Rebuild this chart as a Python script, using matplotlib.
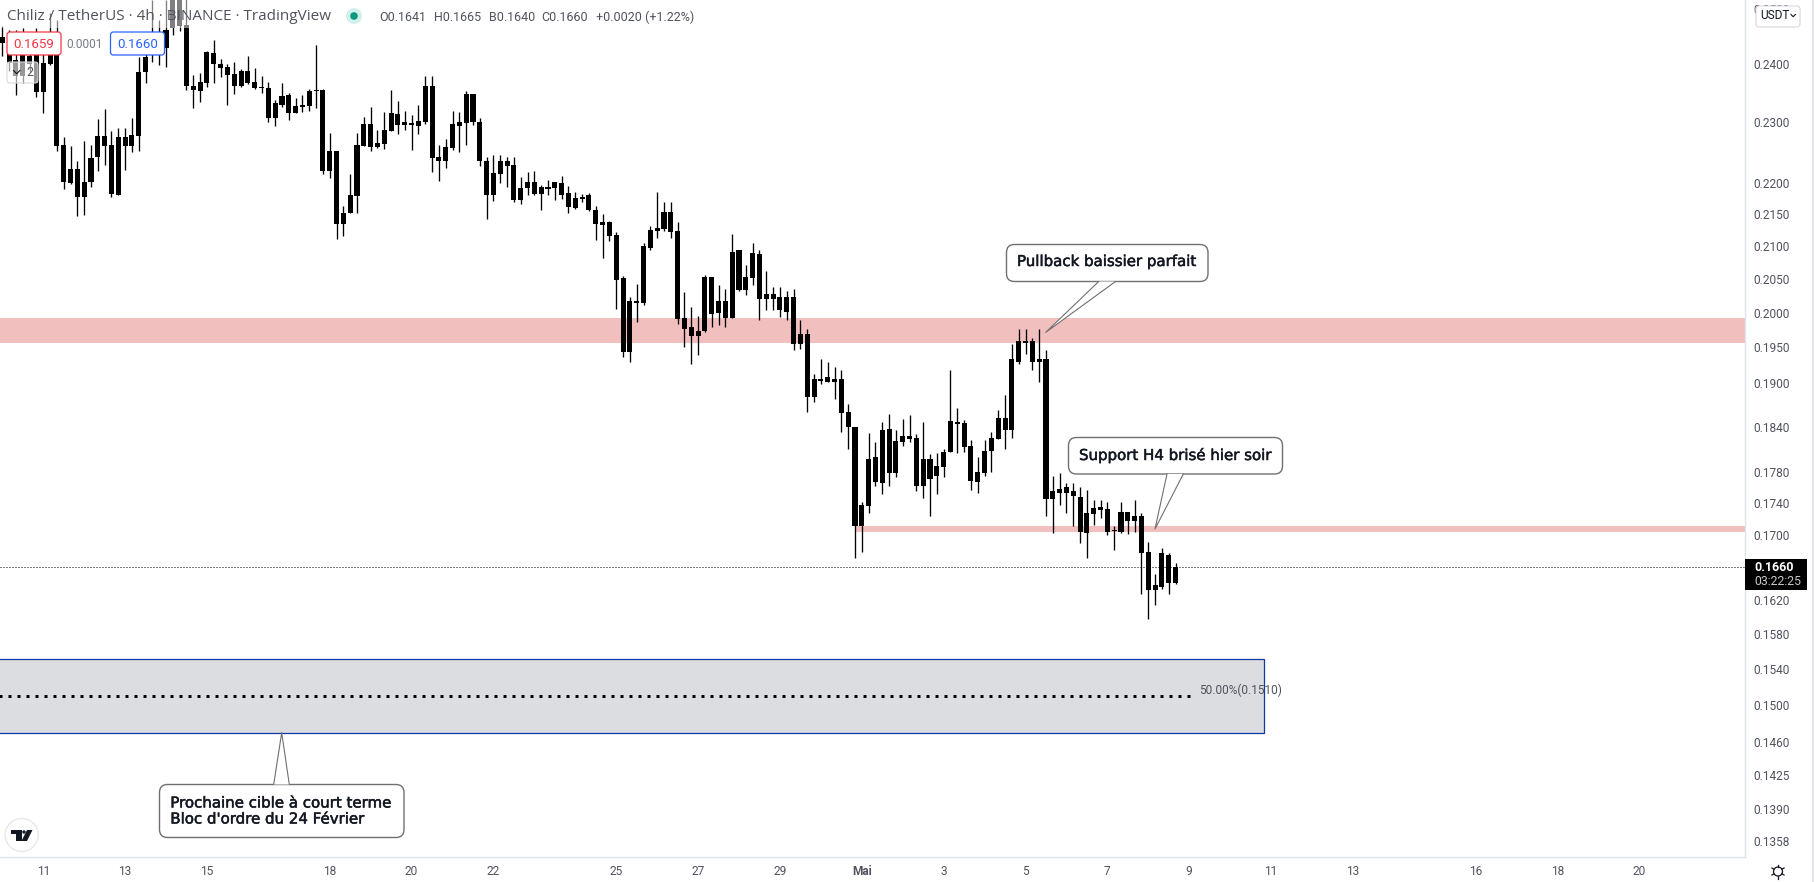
import numpy as np
import matplotlib
matplotlib.use("Agg")
import matplotlib.pyplot as plt
import matplotlib.patheffects as pe
from matplotlib.patches import Rectangle, FancyBboxPatch, Polygon, Circle
from matplotlib.transforms import Affine2D

W, H = 1814, 882

# 4h candles
body_hi = [.2449,.2434,.2408,.2417,.2415,.2417,.2402,.2417,.2448,.2262,
           .2223,.2223,.2202,.2241,.2277,.2277,.2262,.2276,.2276,.2279,
           .2387,.2413,.2452,.2447,.2462,.2520,.2525,.2471,.2363,.2370,
           .2421,.2420,.2401,.2396,.2383,.2389,.2389,.2369,.2360,.2359,
           .2333,.2345,.2347,.2328,.2330,.2353,.2355,.2355,.2252,.2252,
           .2152,.2181,.2262,.2298,.2297,.2266,.2287,.2316,.2314,.2301,
           .2299,.2302,.2362,.2362,.2243,.2259,.2297,.2301,.2348,.2348,
           .2301,.2236,.2216,.2236,.2236,.2230,.2192,.2202,.2202,.2194,
           .2194,.2202,.2200,.2184,.2176,.2178,.2181,.2157,.2138,.2138,
           .2118,.2052,.2018,.2018,.2101,.2126,.2129,.2154,.2154,.2124,
           .1993,.1979,.1974,.2054,.2054,.2017,.2018,.2092,.2094,.2054,
           .2090,.2089,.2028,.2028,.2023,.2024,.2024,.1969,.1969,.1905,
           .1906,.1908,.1905,.1905,.1860,.1839,.1737,.1797,.1799,.1836,
           .1837,.1821,.1827,.1827,.1825,.1797,.1797,.1788,.1806,.1847,
           .1846,.1845,.1814,.1780,.1808,.1825,.1852,.1852,.1933,.1960,
           .1960,.1960,.1934,.1934,.1755,.1758,.1760,.1755,.1747,.1727,
           .1733,.1735,.1732,.1706,.1728,.1729,.1723,.1723,.1679,.1638,
           .1677,.1675,.1660]
body_lo = [.2438,.2403,.2380,.2380,.2401,.2351,.2351,.2401,.2261,.2201,
           .2200,.2177,.2177,.2201,.2242,.2261,.2183,.2181,.2261,.2261,
           .2277,.2386,.2420,.2426,.2429,.2464,.2469,.2362,.2355,.2353,
           .2368,.2400,.2393,.2382,.2362,.2362,.2367,.2359,.2359,.2307,
           .2307,.2330,.2316,.2316,.2326,.2328,.2353,.2219,.2219,.2135,
           .2135,.2152,.2179,.2261,.2259,.2259,.2264,.2285,.2295,.2295,
           .2295,.2294,.2301,.2241,.2235,.2235,.2257,.2294,.2299,.2301,
           .2235,.2181,.2181,.2215,.2228,.2173,.2173,.2192,.2183,.2183,
           .2191,.2192,.2181,.2162,.2160,.2175,.2157,.2135,.2133,.2116,
           .2049,.1943,.1943,.2014,.2014,.2098,.2124,.2127,.2123,.1991,
           .1976,.1966,.1966,.1973,.1999,.2000,.1993,.1993,.2034,.2034,
           .2052,.2020,.2020,.2020,.2005,.2002,.1955,.1955,.1881,.1881,
           .1902,.1901,.1901,.1859,.1839,.1711,.1711,.1736,.1767,.1766,
           .1779,.1779,.1820,.1824,.1762,.1762,.1771,.1774,.1787,.1806,
           .1843,.1813,.1768,.1767,.1779,.1808,.1824,.1836,.1836,.1930,
           .1957,.1930,.1930,.1745,.1745,.1752,.1753,.1749,.1703,.1702,
           .1726,.1731,.1703,.1704,.1703,.1717,.1717,.1677,.1632,.1632,
           .1636,.1641,.1641]
high = [.2468,.2461,.2461,.2465,.2452,.2465,.2458,.2493,.2479,.2276,
        .2261,.2236,.2268,.2263,.2305,.2323,.2285,.2290,.2290,.2307,
        .2413,.2434,.2516,.2479,.2516,.2530,.2535,.2530,.2382,.2385,
        .2423,.2443,.2409,.2401,.2405,.2392,.2414,.2394,.2380,.2369,
        .2338,.2367,.2350,.2341,.2347,.2357,.2434,.2357,.2282,.2252,
        .2163,.2215,.2282,.2309,.2326,.2287,.2317,.2355,.2336,.2319,
        .2312,.2329,.2380,.2380,.2262,.2272,.2319,.2317,.2353,.2348,
        .2307,.2243,.2246,.2246,.2243,.2243,.2210,.2218,.2219,.2197,
        .2205,.2202,.2211,.2195,.2186,.2183,.2184,.2163,.2150,.2140,
        .2122,.2055,.2024,.2043,.2105,.2132,.2186,.2170,.2170,.2138,
        .2031,.2009,.1996,.2057,.2054,.2042,.2036,.2119,.2095,.2072,
        .2105,.2095,.2063,.2039,.2039,.2033,.2036,.1989,.1977,.1913,
        .1933,.1930,.1922,.1918,.1871,.1840,.1741,.1831,.1820,.1846,
        .1857,.1836,.1850,.1856,.1830,.1846,.1803,.1805,.1810,.1918,
        .1866,.1849,.1822,.1799,.1822,.1833,.1863,.1883,.1955,.1977,
        .1976,.1964,.1977,.1947,.1774,.1778,.1766,.1766,.1760,.1757,
        .1744,.1744,.1741,.1711,.1741,.1729,.1744,.1727,.1691,.1652,
        .1683,.1677,.1665]
low = [.2414,.2388,.2347,.2368,.2387,.2344,.2316,.2398,.2252,.2191,
       .2198,.2148,.2149,.2193,.2219,.2230,.2178,.2181,.2221,.2250,
       .2253,.2367,.2405,.2398,.2396,.2452,.2459,.2355,.2324,.2334,
       .2360,.2367,.2378,.2330,.2348,.2360,.2366,.2357,.2350,.2301,
       .2294,.2326,.2304,.2316,.2317,.2319,.2324,.2215,.2208,.2112,
       .2116,.2152,.2152,.2261,.2252,.2257,.2255,.2285,.2280,.2287,
       .2254,.2280,.2297,.2218,.2203,.2225,.2254,.2250,.2262,.2295,
       .2228,.2143,.2171,.2200,.2194,.2170,.2167,.2181,.2181,.2157,
       .2181,.2173,.2175,.2152,.2159,.2170,.2156,.2110,.2083,.2108,
       .2006,.1936,.1929,.1987,.2011,.2095,.2113,.2124,.2113,.1984,
       .1951,.1926,.1939,.1972,.1980,.1983,.1979,.1993,.2033,.2027,
       .2042,.1990,.2005,.2004,.1994,.1990,.1946,.1948,.1860,.1874,
       .1898,.1901,.1878,.1833,.1810,.1671,.1678,.1727,.1762,.1751,
       .1762,.1773,.1814,.1819,.1755,.1746,.1723,.1751,.1773,.1806,
       .1805,.1806,.1757,.1752,.1774,.1780,.1824,.1810,.1825,.1926,
       .1941,.1918,.1901,.1723,.1702,.1737,.1727,.1711,.1690,.1671,
       .1712,.1721,.1699,.1681,.1702,.1701,.1703,.1627,.1598,.1615,
       .1633,.1628,.1640]

price_ticks = [.25, .24, .23, .22, .215, .21, .205, .20, .195, .19, .184, .178, .174,
               .17, .162, .158, .154, .15, .146, .1425, .139, .1358]
date_pos = [6, 18, 30, 48, 60, 72, 90, 102, 114, 126, 138, 150, 162, 174, 186, 198, 216, 228, 240]
date_labels = ["11", "13", "15", "18", "20", "22", "25", "27", "29", "Mai", "3", "5", "7", "9",
               "11", "13", "16", "18", "20"]

last_price = .1660
zone_high = (.1956, .1993)
zone_low = (.1703, .1711)
order_block = (.1470, .1552)
order_mid = .1510

plt.rcParams["font.family"] = ["Roboto", "DejaVu Sans"]
GREY = "#50535E"
LINE = "#E0E3EB"

fig = plt.figure(figsize=(W / 100, H / 100), dpi=100, facecolor="white")
ax = fig.add_axes([0, 25 / H, 1744.5 / W, 857 / H])
pix = Affine2D().scale(1, -1).translate(0, H)

idx = np.arange(len(body_hi))
body_hi = np.array(body_hi)
body_lo = np.array(body_lo)

ax.set_yscale("log")
ax.set_ylim(.1342, .2516)
ax.set_xlim(-.337, 255.4)

ax.add_patch(Rectangle((-5, zone_high[0]), 300, zone_high[1] - zone_high[0], color="#F2BFBF", lw=0, zorder=1))
ax.add_patch(Rectangle((125, zone_low[0]), 200, zone_low[1] - zone_low[0], color="#F2BFBF", lw=0, zorder=1))
ax.add_patch(Rectangle((-5, order_block[0]), 190, order_block[1] - order_block[0],
                       facecolor="#DCDDE0", edgecolor="#1237A8", lw=0.9, zorder=1))
ax.plot([-5, 175], [order_mid, order_mid], color="black", lw=2.16, ls=(0, (1, 2)), dash_capstyle="butt", zorder=2)
ax.text(175.5, .1517, "50.00%(0.1510)", color=GREY, fontsize=8.6, va="center", ha="left", zorder=3)

ax.axhline(last_price, color="black", lw=0.72, ls=(0, (1, 2)), zorder=2)
ax.vlines(idx, low, high, color="black", lw=0.95, zorder=4)
ax.bar(idx, body_hi - body_lo, bottom=body_lo, width=0.74, color="black", lw=0, zorder=5)

ax.yaxis.tick_right()
ax.set_yticks(price_ticks)
ax.set_yticklabels(["%.4f" % p for p in price_ticks], color=GREY, fontsize=8.6)
ax.minorticks_off()
ax.set_xticks(date_pos)
ax.set_xticklabels(date_labels, color=GREY, fontsize=8.6)
ax.get_xticklabels()[9].set_fontweight("bold")
ax.tick_params(axis="both", length=0)
ax.tick_params(axis="y", pad=6.6)
ax.tick_params(axis="x", pad=5.6)
for s in ["top", "left"]:
    ax.spines[s].set_visible(False)
for s in ["right", "bottom"]:
    ax.spines[s].set_color(LINE)
    ax.spines[s].set_linewidth(1)


def put(artist, z=10):
    artist.set_transform(pix)
    artist.set_clip_on(False)
    artist.set_zorder(z)
    ax.add_artist(artist)
    return artist


def txt(x, y, s, **kw):
    kw.setdefault("va", "center")
    kw.setdefault("fontsize", 9)
    kw.setdefault("color", GREY)
    return fig.text(x / W, 1 - y / H, s, **kw)


def note(x, y, s):
    t = txt(x, y, s, family="DejaVu Sans", color="#131722", fontsize=10.8, zorder=20)
    t.set_path_effects([pe.withStroke(linewidth=0.35, foreground="#131722")])


def callout(box, base, tip, z=11):
    left, top, right, bottom = box
    edge = "#707070"
    put(FancyBboxPatch((left + 8, top + 8), right - left - 16, bottom - top - 16,
                       boxstyle="round,pad=8,rounding_size=8", fc="white", ec=edge, lw=1), z)
    base_y = bottom if tip[1] > bottom else top
    put(Polygon([(base[0], base_y), tip, (base[1], base_y)], closed=True, fc="white", ec="none"), z)
    put(plt.Line2D([base[0], tip[0], base[1]], [base_y, tip[1], base_y], color=edge, lw=0.8), z)


# overlay of the legend on top of the candles
put(Rectangle((0, 0), 345, 28, fc="white", ec="none", alpha=0.5))
put(Rectangle((7, 62), 31, 21, fc="white", ec="none", alpha=0.6))
put(FancyBboxPatch((10, 65), 25, 15, boxstyle="round,pad=3,rounding_size=3", fc="none", ec="#D6D8DE", lw=0.8))
put(FancyBboxPatch((10, 35), 48, 17, boxstyle="round,pad=3,rounding_size=3", fc="white", ec="#F23645", lw=0.9))
put(FancyBboxPatch((113.5, 35), 48, 17, boxstyle="round,pad=3,rounding_size=3", fc="white", ec="#2962FF", lw=0.9))
put(plt.Line2D([13.5, 16.7, 19.9], [70.5, 73.7, 70.5], color="#131722", lw=0.8))

txt(7, 16.5, "Chiliz / TetherUS · 4h · BINANCE · TradingView", fontsize=11, family="Open Sans", zorder=20)
txt(379, 17.5, "O0.1641", zorder=20)
txt(434, 17.5, "H0.1665", zorder=20)
txt(489, 17.5, "B0.1640", zorder=20)
txt(541.5, 17.5, "C0.1660", zorder=20)
txt(596, 17.5, "+0.0020 (+1.22%)", zorder=20)
txt(33.5, 44, "0.1659", ha="center", color="#F23645", fontsize=9.5, zorder=20)
txt(84.7, 44, "0.0001", ha="center", color="#787B86", fontsize=8.6, zorder=20)
txt(137.5, 44, "0.1660", ha="center", color="#2962FF", fontsize=9.5, zorder=20)
txt(30, 72.5, "2", ha="center", zorder=20)

put(Circle((354, 16), 8, fc="#D5EFEA", ec="none"))
put(Circle((354, 16), 3.8, fc="#089981", ec="none"))

put(FancyBboxPatch((1759, 9), 38, 15, boxstyle="round,pad=3,rounding_size=3", fc="white", ec="#D6D8DE", lw=0.8))
txt(1760.5, 15.5, "USDT", color="#131722", fontsize=8.6, zorder=20)
put(plt.Line2D([1791, 1793.2, 1795.4], [14.5, 16.7, 14.5], color="#131722", lw=0.8))

put(Rectangle((1744.5, 559), 62.5, 31, fc="black", ec="none"))
txt(1754, 567.5, "0.1660", color="white", fontweight="bold", zorder=20)
txt(1754, 581.5, "03:22:25", color="#C8C8C8", fontsize=8.8, zorder=20)
put(Rectangle((1812, 0), 2, H, fc=LINE, ec="none"))

callout((1006.5, 244.5, 1208, 281.5), (1098.7, 1115.5), (1045.8, 332.3))
note(1017, 261.5, "Pullback baissier parfait")
callout((1068.5, 437.5, 1282.5, 474), (1167, 1183.3), (1155, 529))
note(1079, 455, "Support H4 brisé hier soir")
callout((159.5, 784.5, 404, 837.5), (273.7, 289.3), (281.7, 732.7))
note(170.3, 803, "Prochaine cible à court terme")
note(170.3, 819, "Bloc d'ordre du 24 Février")

# tradingview logo
put(Circle((21.7, 835), 16.5, fc="white", ec="#E8E8E8", lw=1))
put(Polygon([(11, 830), (21.5, 830), (21.5, 841), (15.5, 841), (15.5, 834), (11, 834)], fc="#131722", ec="none"))
put(Polygon([(27, 830), (32.5, 830), (27, 841), (21.5, 841)], fc="#131722", ec="none"))
put(Circle((24, 832), 1.7, fc="#131722", ec="none"))

# settings gear
put(Circle((1778, 871.5), 4.5, fc="white", ec="#131722", lw=0.9))
for a in np.arange(0, 360, 60):
    c, sn = np.cos(np.radians(a + 30)), np.sin(np.radians(a + 30))
    put(plt.Line2D([1778 + 4.5 * c, 1778 + 7 * c], [871.5 + 4.5 * sn, 871.5 + 7 * sn], color="#131722", lw=0.9))

fig.savefig("out.png", dpi=100, facecolor="white")
